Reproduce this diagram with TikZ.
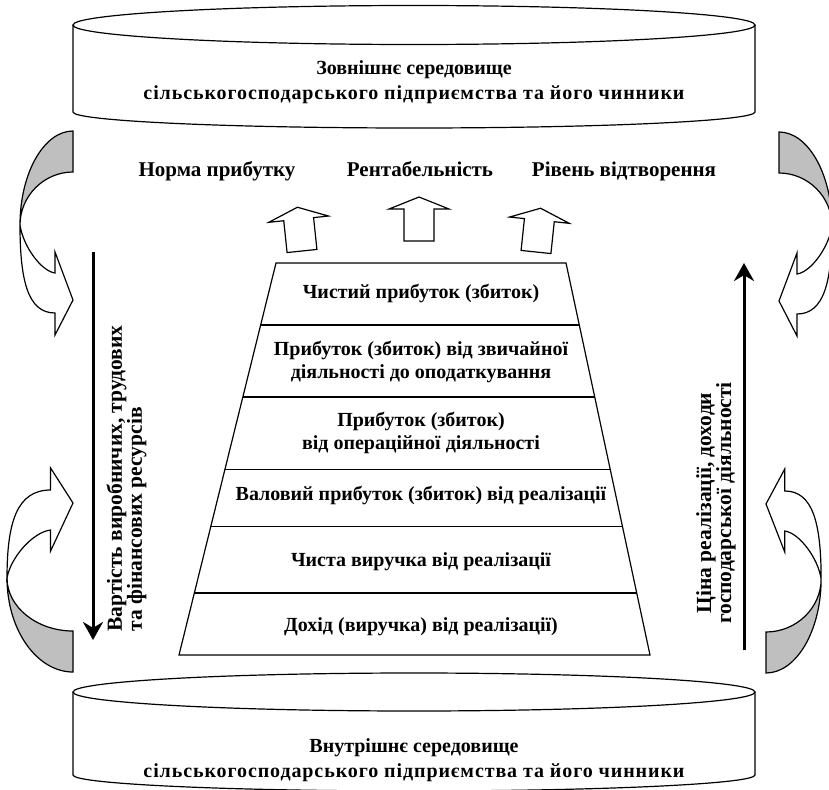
\documentclass[tikz,border=0pt]{standalone}
\usepackage{fontspec}
\setmainfont{Liberation Serif}
\usetikzlibrary{arrows.meta,calc}

\tikzset{
  lbl/.style={font=\bfseries\fontsize{20}{23}\selectfont, align=center, inner sep=0pt},
  oneline/.style={text height=15pt, text depth=5pt},
  sidelbl/.style={font=\bfseries\fontsize{21.5}{20}\selectfont, inner sep=0pt, rotate=90},
  bigarrow/.style={line width=3pt, -{Stealth[length=18pt, width=20pt]}},
  curvedarrow/.pic={
    % back of the band
    \draw[fill=gray!50] (0,0) .. controls (-29,0) and (-53,-42) .. (-53,-94)
      .. controls (-53,-65) and (-29,-41) .. (0,-41) -- cycle;
    % front of the band with its head
    \draw[fill=white] (-53,-94) .. controls (-53,-150) and (-45,-182) .. (-18,-182)
      -- (-18,-204) -- (0,-169) -- (-18,-121) -- (-18,-142)
      .. controls (-32,-140) and (-50,-115) .. (-53,-94) -- cycle;
  },
  blockup/.pic={
    \draw[fill=white] (-15,0) -- (-15,32) -- (-30,32) -- (0,44) -- (30,32) -- (15,32) -- (15,0) -- cycle;
  }
}

\begin{document}
\begin{tikzpicture}[x=1pt, y=1pt, line width=1.2pt]

\useasboundingbox (0,0) rectangle (829,-789);

% Top cylinder
\draw[fill=white] (73,-25) -- (73,-112) arc[start angle=180, end angle=360, x radius=341, y radius=16] -- (755,-25);
\draw (414,-25) ellipse [x radius=341, y radius=19.5];
\node (outer) [lbl, font=\bfseries\fontsize{20}{25}\selectfont] at (414,-82) {Зовнішнє середовище\\{\addfontfeature{LetterSpace=4.5}сільськогосподарського підприємства та його чинники}};

% Bottom cylinder
\draw[fill=white] (73,-692) -- (73,-775) arc[start angle=180, end angle=360, x radius=341, y radius=16] -- (755,-692);
\draw (414,-692) ellipse [x radius=341, y radius=19];
\node (inner) [lbl, font=\bfseries\fontsize{20}{25}\selectfont] at (414,-760) {Внутрішнє середовище\\{\addfontfeature{LetterSpace=4.5}сільськогосподарського підприємства та його чинники}};

% Curved arrows at the sides
\pic at (73,-131) {curvedarrow};
\pic[xscale=-1] at (779,-132) {curvedarrow};
\pic[yscale=-1, xscale=1.245] at (73,-672) {curvedarrow};
\pic[yscale=-1, xscale=-1.04] at (766,-673) {curvedarrow};

% Indicators
\node (rate) [lbl, oneline, font=\bfseries\fontsize{21}{23}\selectfont] at (217,-171) {Норма прибутку};
\node (profitability) [lbl, oneline, font=\bfseries\fontsize{21}{23}\selectfont] at (420,-171) {Рентабельність};
\node (reproduction) [lbl, oneline, font=\bfseries\fontsize{21}{23}\selectfont] at (624,-171) {Рівень відтворення};

% Block arrows up
\pic[rotate=6] at (302,-251) {blockup};
\pic at (419,-241) {blockup};
\pic[rotate=-6] at (536,-252) {blockup};

% Pyramid of profit
\coordinate (tl) at (276,-263);
\coordinate (tr) at (566,-263);
\coordinate (br) at (650,-655);
\coordinate (bl) at (179,-655);
\draw (tl) -- (tr) -- (br) -- (bl) -- cycle;
\draw ($(tl)!0.158!(bl)$) -- ($(tr)!0.158!(br)$);
\draw ($(tl)!0.342!(bl)$) -- ($(tr)!0.342!(br)$);
\draw ($(tl)!0.526!(bl)$) -- ($(tr)!0.526!(br)$);
\draw ($(tl)!0.673!(bl)$) -- ($(tr)!0.673!(br)$);
\draw ($(tl)!0.842!(bl)$) -- ($(tr)!0.842!(br)$);

\node (net) [lbl, oneline] at (421,-293) {Чистий прибуток (збиток)};
\node (ordinary) [lbl] at (421,-362) {Прибуток (збиток) від звичайної\\діяльності до оподаткування};
\node (operating) [lbl] at (421,-433) {Прибуток (збиток)\\від операційної діяльності};
\node (gross) [lbl, oneline] at (421,-495) {Валовий прибуток (збиток) від реалізації};
\node (netsales) [lbl, oneline] at (421,-561) {Чиста виручка від реалізації};
\node (revenue) [lbl, oneline] at (421,-626) {Дохід (виручка) від реалізації)};

% Costs and prices
\coordinate (coststart) at (93,-252);
\coordinate (costend) at (93,-640);
\draw[bigarrow] (coststart) -- (costend);
\node (costs) [sidelbl, align=left, anchor=north west] at (106,-632) {Вартість виробничих, трудових\\та фінансових ресурсів};

\coordinate (pricestart) at (744,-650);
\coordinate (priceend) at (744,-263);
\draw[bigarrow] (pricestart) -- (priceend);
\node (price) [sidelbl, align=center] at (716,-503) {Ціна реалізації, доходи\\господарської діяльності};

\end{tikzpicture}
\end{document}
